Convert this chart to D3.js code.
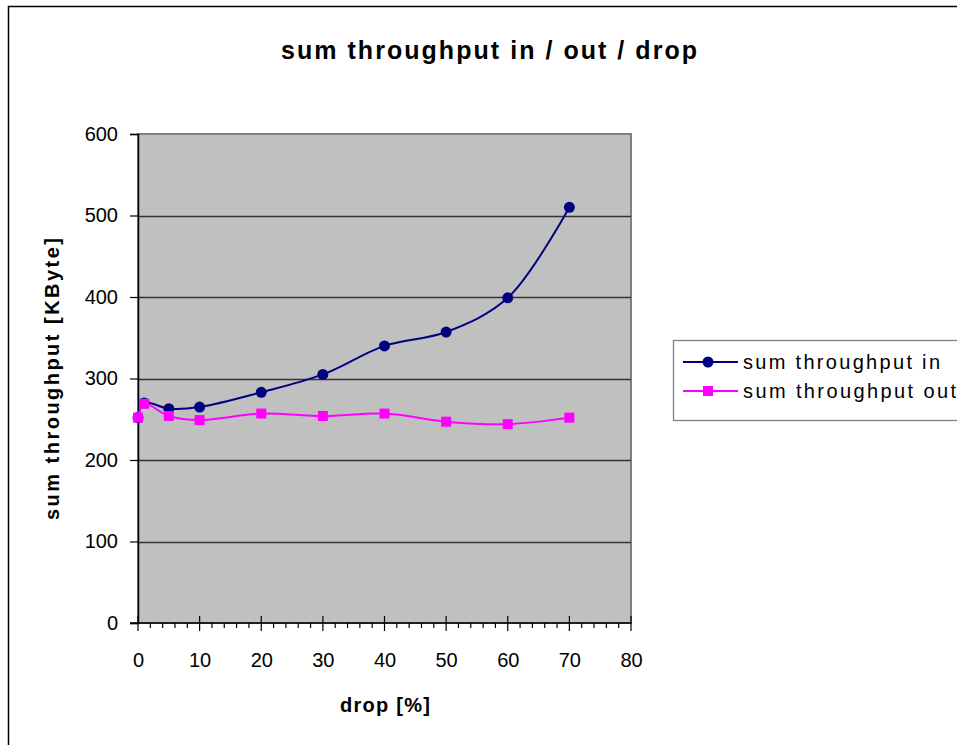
<!DOCTYPE html>
<html><head><meta charset="utf-8">
<script src="https://cdn.jsdelivr.net/npm/d3@7"></script>
<style>html,body{margin:0;padding:0;background:#fff;}svg{display:block;font-family:"Liberation Sans",Arial,sans-serif;}</style>
</head><body>
<svg id="c" width="957" height="745"></svg>
<script>
const xIn = [0, 1, 5, 10, 20, 30, 40, 50, 60, 70];
const sumIn = [252, 270, 263, 265, 283, 305, 340, 357, 399, 510];
const xOut = [0, 1, 5, 10, 20, 30, 40, 50, 60, 70];
const sumOut = [252, 269, 254, 249, 257, 254, 257, 247, 244, 252];
const xTicks = [0, 10, 20, 30, 40, 50, 60, 70, 80];
const yTicks = [0, 100, 200, 300, 400, 500, 600];
const seriesNames = ["sum throughput in", "sum throughput out"];
const title = "sum throughput in / out / drop";
const xLabel = "drop [%]";
const yLabel = "sum throughput [KByte]";

const FONT = "Liberation Sans, Arial, sans-serif";
const svg = d3.select("#c");
const L = 138, R = 631, T = 134, B = 623;
const x = d3.scaleLinear().domain([0, 80]).range([L, R]);
const y = d3.scaleLinear().domain([0, 600]).range([B, T]);

// outer chart border
svg.append("rect").attr("x", 8.5).attr("y", 6.5).attr("width", 1000).attr("height", 1000)
  .attr("fill", "#fff").attr("stroke", "#000").attr("stroke-width", 1.5);

// plot area
svg.append("rect").attr("x", L).attr("y", T).attr("width", R - L).attr("height", B - T)
  .attr("fill", "#C0C0C0").attr("stroke", "#808080").attr("stroke-width", 2);

// gridlines
svg.append("g").selectAll("line").data(yTicks.filter(d => d > 0 && d < 600)).join("line")
  .attr("x1", L).attr("x2", R).attr("y1", d => Math.round(y(d)) + 0.5).attr("y2", d => Math.round(y(d)) + 0.5)
  .attr("stroke", "#333").attr("stroke-width", 1.3);

// x axis
const xAxis = d3.axisBottom(x).tickValues(xTicks).tickSize(0).tickPadding(30);
const gx = svg.append("g").attr("transform", `translate(0,${B})`).call(xAxis);
gx.select(".domain").remove();
gx.selectAll("text").attr("font-size", 20).attr("fill", "#000").attr("font-family", FONT);
svg.append("line").attr("x1", L - 8).attr("x2", R).attr("y1", B).attr("y2", B).attr("stroke", "#000").attr("stroke-width", 1.5);
// major x ticks (cross the axis)
svg.append("g").selectAll("line").data(xTicks).join("line")
  .attr("x1", d => x(d)).attr("x2", d => x(d)).attr("y1", B - 7).attr("y2", B + 8)
  .attr("stroke", "#000").attr("stroke-width", 1.2);
// minor x ticks
svg.append("g").selectAll("line").data(d3.range(2, 80, 2).filter(d => d % 10 !== 0)).join("line")
  .attr("x1", d => x(d)).attr("x2", d => x(d)).attr("y1", B).attr("y2", B + 5)
  .attr("stroke", "#000").attr("stroke-width", 1.2);

// y axis
const yAxis = d3.axisLeft(y).tickValues(yTicks).tickSize(8).tickPadding(12);
const gy = svg.append("g").attr("transform", `translate(${L},0)`).call(yAxis);
gy.select(".domain").attr("stroke", "#000").attr("stroke-width", 1.5);
gy.selectAll(".tick line").attr("stroke", "#000").attr("stroke-width", 1.2);
gy.selectAll("text").attr("font-size", 20).attr("fill", "#000").attr("font-family", FONT);

// lines
const curve = d3.curveCatmullRom.alpha(0.5);
const lineGen = d3.line().x(d => x(d[0])).y(d => y(d[1])).curve(curve);
const inData = xIn.map((v, i) => [v, sumIn[i]]);
const outData = xOut.map((v, i) => [v, sumOut[i]]);

svg.append("path").datum(inData).attr("d", lineGen).attr("fill", "none").attr("stroke", "#000080").attr("stroke-width", 2);
svg.append("g").selectAll("circle").data(inData).join("circle")
  .attr("cx", d => x(d[0])).attr("cy", d => y(d[1])).attr("r", 5.5).attr("fill", "#000080");

svg.append("path").datum(outData).attr("d", lineGen).attr("fill", "none").attr("stroke", "#FF00FF").attr("stroke-width", 2);
svg.append("g").selectAll("rect").data(outData).join("rect")
  .attr("x", d => x(d[0]) - 5).attr("y", d => y(d[1]) - 5).attr("width", 10).attr("height", 10).attr("fill", "#FF00FF");

// title
svg.append("text").attr("x", 489).attr("y", 59).attr("text-anchor", "middle")
  .attr("font-size", 25).attr("font-weight", "bold").attr("textLength", 416).attr("lengthAdjust", "spacing").text(title);

// axis titles
svg.append("text").attr("x", 385).attr("y", 712).attr("text-anchor", "middle")
  .attr("font-size", 20).attr("font-weight", "bold").attr("textLength", 90).attr("lengthAdjust", "spacing").text(xLabel);
svg.append("text").attr("transform", `translate(59,379) rotate(-90)`).attr("text-anchor", "middle")
  .attr("font-size", 20).attr("font-weight", "bold").attr("textLength", 282).attr("lengthAdjust", "spacing").text(yLabel);

// legend
const lg = svg.append("g");
lg.append("rect").attr("x", 673.5).attr("y", 340.5).attr("width", 400).attr("height", 80)
  .attr("fill", "#fff").attr("stroke", "#808080").attr("stroke-width", 1.3);
const colors = ["#000080", "#FF00FF"];
const lens = [197, 213];
seriesNames.forEach((name, i) => {
  const ly = 362 + i * 29;
  lg.append("line").attr("x1", 683).attr("x2", 738).attr("y1", ly).attr("y2", ly).attr("stroke", colors[i]).attr("stroke-width", 2);
  if (i === 0) lg.append("circle").attr("cx", 708).attr("cy", ly).attr("r", 5.5).attr("fill", colors[i]);
  else lg.append("rect").attr("x", 703).attr("y", ly - 5).attr("width", 10).attr("height", 10).attr("fill", colors[i]);
  lg.append("text").attr("x", 743).attr("y", ly + 7).attr("font-size", 20)
    .attr("textLength", lens[i]).attr("lengthAdjust", "spacing").text(name);
});
</script>
</body></html>
